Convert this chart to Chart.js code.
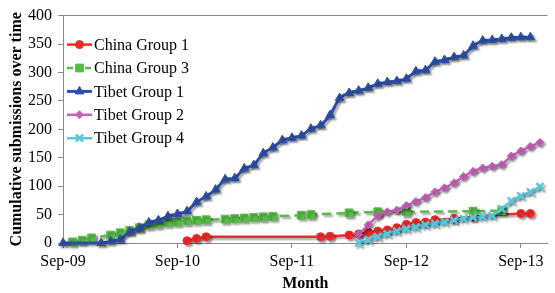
<!DOCTYPE html>
<html><head><meta charset="utf-8">
<script src="https://cdn.jsdelivr.net/npm/chart.js@4/dist/chart.umd.min.js"></script>
<style>html,body{margin:0;padding:0;background:#fff;}#wrap{width:555px;height:293px;}</style>
</head><body><div id="wrap"><canvas id="c" width="555" height="293"></canvas></div>
<script>
// Month index 0 = Sep-09 ... 50 = Nov-13
const tickMonths = [0, 12, 24, 36, 48];
const tickLabels = ['Sep-09', 'Sep-10', 'Sep-11', 'Sep-12', 'Sep-13'];
const seriesNames = ['China Group 1', 'China Group 3', 'Tibet Group 1', 'Tibet Group 2', 'Tibet Group 4'];
const N = null;
const china1 = [N,N,N,N,N,N,N,N,N,N, N,N,N,4,8,11,N,N,N,N, N,N,N,N,N,N,N,11,12,N, 14,16,19,21,23,27,33,36,37,41, N,43,N,46,N,N,N,N,52,52, N];
const china3 = [N,2,5,9,N,14,18,22,27,32, 34,36,37,39,40,41,N,42,43,44, 45,46,47,N,N,49,50,N,N,N, 53,N,N,55,N,N,55,N,N,N, N,N,N,56,N,N,57,N,N,N, N];
const tibet1 = [0,N,N,N,0,3,6,20,27,36, 40,47,51,56,72,82,94,112,114,131, 137,158,168,181,185,189,201,207,225,255, 264,268,273,280,283,285,289,302,304,319, 322,327,330,347,356,357,359,361,362,362, N];
const tibet2 = [N,N,N,N,N,N,N,N,N,N, N,N,N,N,N,N,N,N,N,N, N,N,N,N,N,N,N,N,N,N, N,15,32,48,55,58,66,73,80,90, 97,106,117,126,132,135,138,153,162,170, 177];
const tibet4 = [N,N,N,N,N,N,N,N,N,N, N,N,N,N,N,N,N,N,N,N, N,N,N,N,N,N,N,N,N,N, N,0,5,11,16,21,25,28,32,34, 37,40,43,45,46,48,60,74,83,90, 99];

const toPts = arr => arr.map((v, i) => ({x: i, y: v}));
const FONT = '"Liberation Serif", "Times New Roman", serif';
Chart.defaults.font.family = FONT;
Chart.defaults.color = '#000';

const styles = [
  {color: '#EE2A2A', pointStyle: 'circle', radius: 4, dash: [], lw: 2.5, pbw: 1},
  {color: '#56BB47', pointStyle: 'rect', radius: 5.5, dash: [9, 5], lw: 2.5, pbw: 1},
  {color: '#2D4FA6', pointStyle: 'triangle', radius: 5, dash: [], lw: 3, pbw: 1},
  {color: '#C362B6', pointStyle: 'rectRot', radius: 4, dash: [], lw: 2.5, pbw: 1},
  {color: '#5BC6DA', pointStyle: 'crossRot', radius: 5, dash: [], lw: 2.5, pbw: 2.5}
];
const allData = [china1, china3, tibet1, tibet2, tibet4];

const datasets = allData.map((arr, i) => ({
  label: seriesNames[i],
  data: toPts(arr),
  borderColor: styles[i].color,
  backgroundColor: styles[i].color,
  borderWidth: styles[i].lw,
  borderDash: styles[i].dash,
  pointStyle: styles[i].pointStyle,
  pointRadius: styles[i].radius,
  pointBorderWidth: styles[i].pbw,
  pointBorderColor: styles[i].color,
  pointBackgroundColor: styles[i].color,
  tension: 0.15,
  spanGaps: true,
  clip: false,
  order: 10 - i
}));

const shadowPlugin = {
  id: 'shadow',
  beforeDatasetDraw(chart) {
    const ctx = chart.ctx;
    ctx.save();
    ctx.shadowColor = 'rgba(0,0,0,0.35)';
    ctx.shadowBlur = 2;
    ctx.shadowOffsetX = 2;
    ctx.shadowOffsetY = 2;
  },
  afterDatasetDraw(chart) { chart.ctx.restore(); }
};

const legendPlugin = {
  id: 'innerLegend',
  afterDraw(chart) {
    const ctx = chart.ctx;
    const area = chart.chartArea;
    const x0 = area.left + 4, x1 = area.left + 29, tx = area.left + 31;
    chart.data.datasets.forEach((ds, i) => {
      const y = area.top + 29 + i * 23.4;
      const st = styles[i];
      ctx.save();
      ctx.strokeStyle = st.color;
      ctx.fillStyle = st.color;
      ctx.lineWidth = st.lw;
      ctx.setLineDash(st.dash.length ? [6, 3] : []);
      ctx.beginPath(); ctx.moveTo(x0, y); ctx.lineTo(x1, y); ctx.stroke();
      ctx.setLineDash([]);
      ctx.lineWidth = st.pbw;
      Chart.helpers.drawPoint(ctx, {pointStyle: st.pointStyle, radius: st.radius, borderWidth: st.pbw, rotation: 0}, (x0 + x1) / 2, y);
      ctx.fillStyle = '#000';
      ctx.font = '16px ' + FONT;
      ctx.textBaseline = 'middle';
      ctx.textAlign = 'left';
      ctx.fillText(ds.label, tx, y + 1);
      ctx.restore();
    });
  }
};

new Chart(document.getElementById('c'), {
  type: 'line',
  data: {datasets},
  plugins: [shadowPlugin, legendPlugin],
  options: {
    responsive: false,
    animation: false,
    devicePixelRatio: 1,
    layout: {padding: {top: 15, right: 5, left: 0, bottom: 0}},
    plugins: {legend: {display: false}, tooltip: {enabled: false}},
    scales: {
      x: {
        type: 'linear', min: 0, max: 50.8,
        afterBuildTicks: s => { s.ticks = tickMonths.map(v => ({value: v})); },
        ticks: {
          callback: v => tickLabels[tickMonths.indexOf(v)],
          autoSkip: false, maxRotation: 0, padding: 4,
          font: {size: 16, family: FONT}, color: '#000'
        },
        grid: {drawOnChartArea: false, drawTicks: true, tickLength: 5, tickColor: '#888'},
        border: {color: '#888', width: 1},
        title: {display: true, text: 'Month', color: '#000', font: {size: 16, weight: 'bold', family: FONT}, padding: 0},
        afterFit: s => { s.height = 50; }
      },
      y: {
        min: 0, max: 400,
        ticks: {stepSize: 50, padding: 6, font: {size: 16, family: FONT}, color: '#000'},
        grid: {
          color: c => (c.tick && c.tick.value === 400) ? '#888' : 'rgba(0,0,0,0)',
          tickColor: '#888', tickLength: 5, drawTicks: true
        },
        border: {color: '#888', width: 1},
        title: {display: true, text: 'Cumulative submissions over time', color: '#000', font: {size: 16, weight: 'bold', family: FONT}, padding: {top: 7, bottom: 0}},
        afterFit: s => { s.width = 63; }
      }
    }
  }
});
</script></body></html>
